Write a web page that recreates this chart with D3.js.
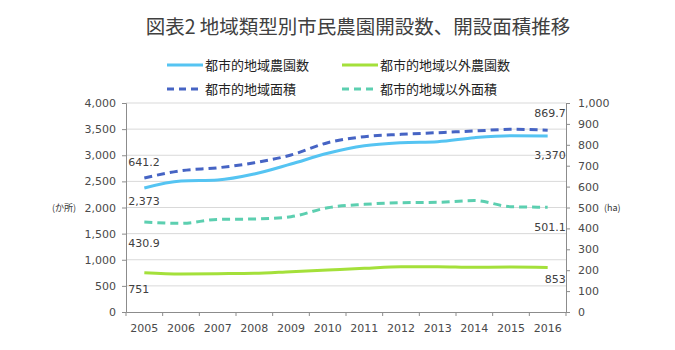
<!DOCTYPE html>
<html>
<head>
<meta charset="utf-8">
<script src="https://cdn.jsdelivr.net/npm/d3@7"></script>
<style>
  body { margin: 0; background: #fff; }
  text { font-family: "DejaVu Sans", sans-serif; }
  .jp { font-family: "Noto Sans CJK JP", sans-serif; }
</style>
</head>
<body>
<svg id="chart" width="675" height="350"></svg>
<script>
// Data
const years = ["2005","2006","2007","2008","2009","2010","2011","2012","2013","2014","2015","2016"];
const urbanCount = [2373, 2507, 2526, 2641, 2832, 3037, 3180, 3240, 3260, 3336, 3375, 3370];
const ruralCount = [751, 727, 733, 740, 772, 804, 836, 867, 866, 855, 860, 853];
const urbanArea = [641.2, 676, 690, 714, 751, 810, 839, 850, 858, 866, 874, 869.7];
const ruralArea = [430.9, 424, 443, 445, 456, 499, 515, 523, 525, 533, 504, 501.1];
const leftTicks = [0, 500, 1000, 1500, 2000, 2500, 3000, 3500, 4000];
const rightTicks = [0, 100, 200, 300, 400, 500, 600, 700, 800, 900, 1000];

const svg = d3.select("#chart");
const plotL = 126, plotR = 566, plotT = 103, plotB = 312;

// Scales
const x = d3.scaleBand().domain(years).range([plotL, plotR]);
const yL = d3.scaleLinear().domain([0, 4000]).range([plotB, plotT]);
const yR = d3.scaleLinear().domain([0, 1000]).range([plotB, plotT]);
const cx = d => x(d) + x.bandwidth() / 2;

// Title
svg.append("text").attr("class", "jp")
    .attr("x", 358).attr("y", 34)
    .attr("text-anchor", "middle")
    .attr("font-size", 19.5).attr("fill", "#404040")
    .text("図表2 地域類型別市民農園開設数、開設面積推移");

// Gridlines
svg.selectAll(".grid")
    .data(leftTicks.slice(1))
    .enter()
    .append("line")
    .attr("x1", plotL).attr("x2", plotR)
    .attr("y1", d => yL(d)).attr("y2", d => yL(d))
    .attr("stroke", "#d9d9d9").attr("stroke-width", 1);

// Axes
const axL = svg.append("g").attr("transform", `translate(${plotL},0)`)
    .call(d3.axisLeft(yL).tickValues(leftTicks).tickSize(4).tickPadding(6).tickFormat(d3.format(",")));
const axR = svg.append("g").attr("transform", `translate(${plotR},0)`)
    .call(d3.axisRight(yR).tickValues(rightTicks).tickSize(4).tickPadding(8).tickFormat(d3.format(",")));
const axB = svg.append("g").attr("transform", `translate(0,${plotB})`)
    .call(d3.axisBottom(x).tickSize(0).tickPadding(12));

[axL, axR, axB].forEach(g => {
    g.select(".domain").attr("stroke", "#8c8c8c");
    g.selectAll(".tick line").attr("stroke", "#8c8c8c");
    g.selectAll(".tick text").attr("font-size", 11).attr("fill", "#4a4a4a")
        .attr("font-family", "DejaVu Sans, sans-serif");
});

// Category boundary ticks on the x axis
svg.selectAll(".xtick")
    .data(years.concat(["end"]))
    .enter()
    .append("line")
    .attr("x1", (d, i) => plotL + i * x.bandwidth())
    .attr("x2", (d, i) => plotL + i * x.bandwidth())
    .attr("y1", plotB).attr("y2", plotB + 4)
    .attr("stroke", "#8c8c8c");

// Unit labels
svg.append("text").attr("class", "jp").attr("x", 52).attr("y", 211)
    .attr("font-size", 9).attr("fill", "#333").text("(か所)");
svg.append("text").attr("class", "jp").attr("x", 604).attr("y", 211)
    .attr("font-size", 9).attr("fill", "#333").text("(ha)");

// Series
const series = [
    { name: "都市的地域農園数", values: urbanCount, y: yL, color: "#55c4f2", dash: null },
    { name: "都市的地域以外農園数", values: ruralCount, y: yL, color: "#a4e03a", dash: null },
    { name: "都市的地域面積", values: urbanArea, y: yR, color: "#4664c4", dash: "8,5" },
    { name: "都市的地域以外面積", values: ruralArea, y: yR, color: "#5ccfb0", dash: "8,5" }
];

series.forEach(s => {
    const line = d3.line()
        .x((d, i) => cx(years[i]))
        .y(d => s.y(d))
        .curve(d3.curveMonotoneX);
    svg.append("path")
        .datum(s.values)
        .attr("d", line)
        .attr("fill", "none")
        .attr("stroke", s.color)
        .attr("stroke-width", 3)
        .attr("stroke-dasharray", s.dash);
});

// Data labels at first and last points
const fmtLabel = (s, v) => s.y === yR ? d3.format(".1f")(v) : d3.format(",")(v);
const labelOffsets = [
    { first: 17, last: 23 },   // urban count: below
    { first: 20, last: 16 },   // rural count: below
    { first: -12, last: -13 }, // urban area: above
    { first: 25, last: 24 }    // rural area: below
];
series.forEach((s, k) => {
    const n = s.values.length - 1;
    svg.append("text")
        .attr("x", cx(years[0]) - 16)
        .attr("y", s.y(s.values[0]) + labelOffsets[k].first)
        .attr("font-size", 11).attr("fill", "#404040")
        .text(fmtLabel(s, s.values[0]));
    svg.append("text")
        .attr("x", cx(years[n]) + 18)
        .attr("y", s.y(s.values[n]) + labelOffsets[k].last)
        .attr("text-anchor", "end")
        .attr("font-size", 11).attr("fill", "#404040")
        .text(fmtLabel(s, s.values[n]));
});

// Legend
const legendPos = [[167, 65], [342, 65], [167, 89], [342, 89]];
series.forEach((s, i) => {
    const [lx, ly] = legendPos[i];
    svg.append("line")
        .attr("x1", lx).attr("x2", lx + 36)
        .attr("y1", ly).attr("y2", ly)
        .attr("stroke", s.color).attr("stroke-width", 3)
        .attr("stroke-dasharray", s.dash ? "7,5" : null);
    svg.append("text").attr("class", "jp")
        .attr("x", lx + 38).attr("y", ly + 5)
        .attr("font-size", 13).attr("fill", "#222")
        .text(s.name);
});
</script>
</body>
</html>
